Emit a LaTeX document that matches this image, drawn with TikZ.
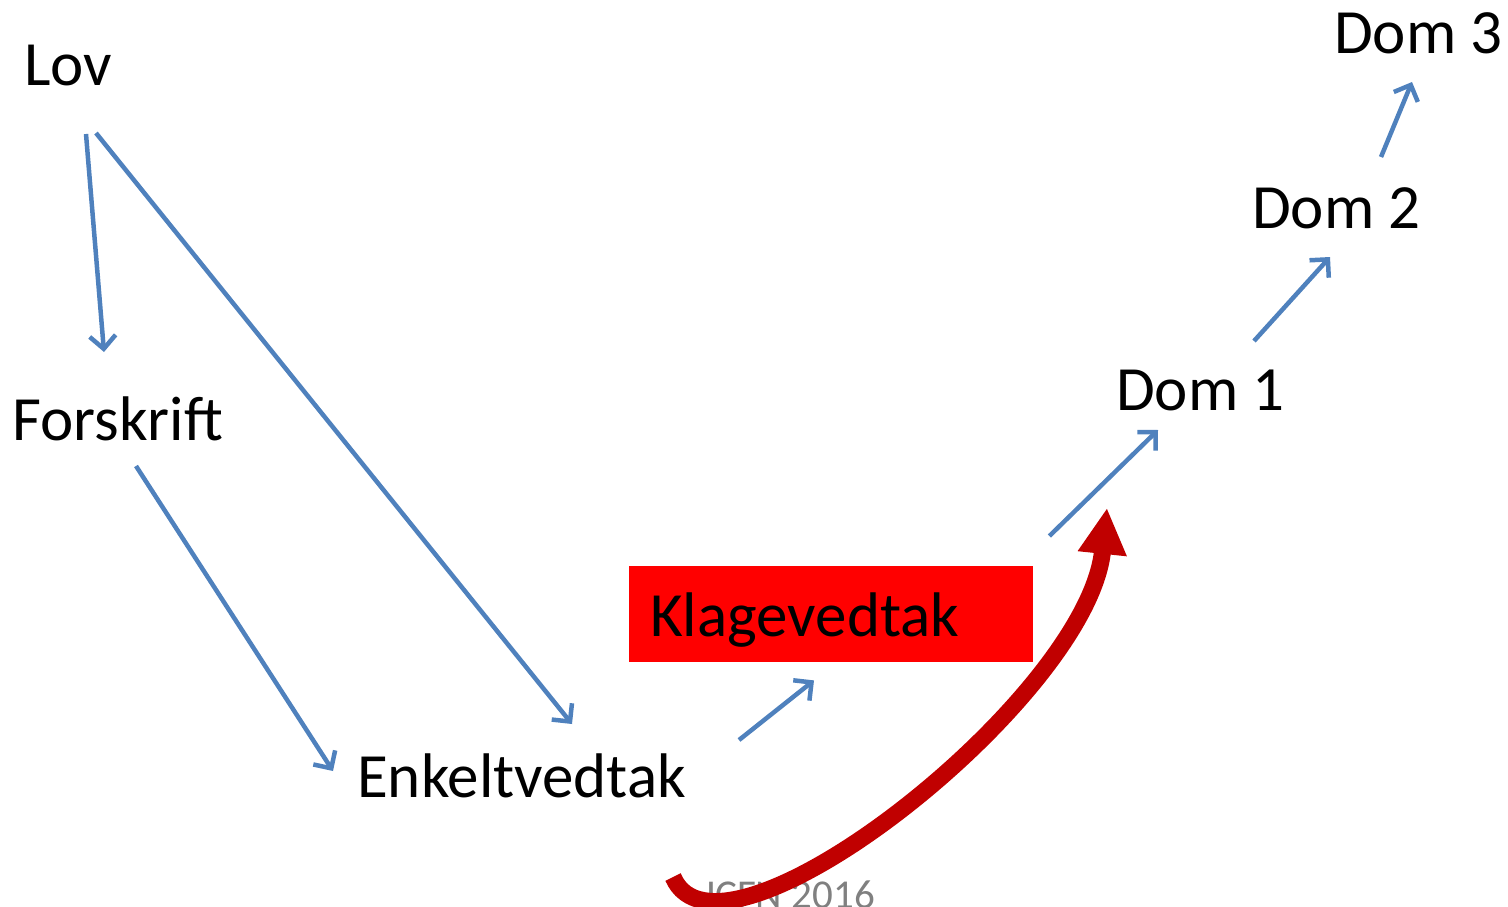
\documentclass[tikz,border=0pt]{standalone}
\usepackage{fontspec}
\setmainfont{Carlito}
\usetikzlibrary{arrows.meta}
\definecolor{lineblue}{HTML}{4F81BD}
\definecolor{darkred}{HTML}{C00000}
\begin{document}
\begin{tikzpicture}[x=1pt, y=-1pt,
  lbl/.style={inner sep=0, anchor=base west, font=\fontsize{63pt}{70pt}\selectfont},
  arr/.style={draw=lineblue, line width=4.5pt, -{Straight Barb[length=13pt,width=26pt]}}]
\useasboundingbox (0,0) rectangle (1508,907);
\node[lbl] (lov) at (24,85) {Lov};
\node[lbl] (forskrift) at (12,440) {Forskrift};
\node[lbl] (enkelt) at (357,797) {Enkeltvedtak};
\node[lbl, fill=red, anchor=north west, text width=404pt, text height=70pt, text depth=26pt, align=left] (klage) at (629,566) {\hspace*{21pt}Klagevedtak};
\node[lbl] (dom1) at (1116,410) {Dom 1};
\node[lbl] (dom2) at (1252,228) {Dom 2};
\node[lbl] (dom3) at (1334,54) {Dom 3};
\node[inner sep=0, anchor=base west, text=gray, font=\fontsize{41pt}{45pt}\selectfont] (jcfn) at (702,908) {JCFN 2016};

\draw[arr] ([shift={(62,49)}]lov.base west) -- ([shift={(92,-88)}]forskrift.base west);
\draw[arr] ([shift={(72,48)}]lov.base west) -- ([shift={(215,-73)}]enkelt.base west);
\draw[arr] ([shift={(124,26)}]forskrift.base west) -- ([shift={(-24,-26)}]enkelt.base west);
\draw[arr] ([shift={(382,-57)}]enkelt.base west) -- ([shift={(185,18)}]klage.south west);
\draw[arr] ([shift={(16,-30)}]klage.north east) -- ([shift={(42,20)}]dom1.base west);
\draw[arr] ([shift={(138,-69)}]dom1.base west) -- ([shift={(78,29)}]dom2.base west);
\draw[arr] ([shift={(129,-71)}]dom2.base west) -- ([shift={(78,28)}]dom3.base west);

\draw[darkred, line width=17pt, -{Triangle[length=46pt,width=46pt]}]
  ([shift={(316,80)}]enkelt.base west) .. controls +(47,110) and +(-20,192) .. ([shift={(-9,98)}]dom1.base west);
\end{tikzpicture}
\end{document}
